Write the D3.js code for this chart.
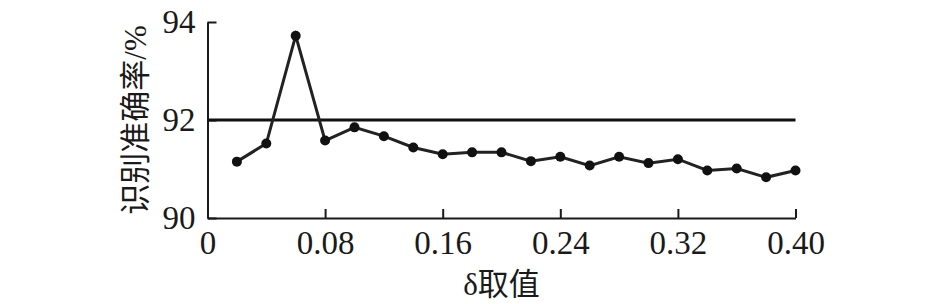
<!DOCTYPE html>
<html>
<head>
<meta charset="utf-8">
<script src="https://cdn.jsdelivr.net/npm/d3@7"></script>
<style>
  body { margin: 0; background: #fff; }
</style>
</head>
<body>
<div id="chart"></div>
<script>
// delta values on the x axis and recognition accuracy (%)
const deltas = [0.02, 0.04, 0.06, 0.08, 0.10, 0.12, 0.14, 0.16, 0.18, 0.20,
                0.22, 0.24, 0.26, 0.28, 0.30, 0.32, 0.34, 0.36, 0.38, 0.40];
const accuracy = [91.15, 91.52, 93.72, 91.58, 91.85, 91.67, 91.44, 91.30, 91.34, 91.34,
                  91.16, 91.25, 91.07, 91.25, 91.12, 91.20, 90.97, 91.01, 90.83, 90.97];
const baseline = 92; // horizontal reference line

const xTicks = [0, 0.08, 0.16, 0.24, 0.32, 0.40];
const xTickLabels = ["0", "0.08", "0.16", "0.24", "0.32", "0.40"];
const yTicks = [90, 92, 94];

const xLabel = "δ取值";
const yLabel = "识别准确率/%";

const fontList = '"Liberation Serif", "Noto Sans CJK SC"';

// dimensions
const width = 946, height = 304;
const margin = { top: 22, left: 207.5, right: 150.5, bottom: 86 };
const innerW = width - margin.left - margin.right;
const innerH = height - margin.top - margin.bottom;

const x = d3.scaleLinear().domain([0, 0.40]).range([0, innerW]);
const y = d3.scaleLinear().domain([90, 94]).range([innerH, 0]);

const svg = d3.select("#chart").append("svg")
    .attr("width", width).attr("height", height);

const g = svg.append("g")
    .attr("transform", `translate(${margin.left},${margin.top})`);

// axes, ticks point inward
const xAxis = g.append("g")
    .attr("transform", `translate(0,${innerH})`)
    .call(d3.axisBottom(x).tickValues(xTicks)
        .tickFormat((d, i) => xTickLabels[i])
        .tickSize(-9).tickSizeOuter(0).tickPadding(13));

const yAxis = g.append("g")
    .call(d3.axisLeft(y).tickValues(yTicks)
        .tickFormat(d3.format("d"))
        .tickSize(-9).tickSizeOuter(0).tickPadding(12));

[xAxis, yAxis].forEach(ax => {
    ax.attr("font-family", fontList).attr("font-size", 33);
    ax.select(".domain").attr("stroke", "#1a1a1a").attr("stroke-width", 2);
    ax.selectAll(".tick line").attr("stroke", "#1a1a1a").attr("stroke-width", 2);
    ax.selectAll(".tick text").attr("fill", "#1a1a1a");
});

// reference line at 92%
g.append("line")
    .attr("x1", x(0)).attr("x2", x(0.40))
    .attr("y1", y(baseline)).attr("y2", y(baseline))
    .attr("stroke", "#111").attr("stroke-width", 3);

// data line + dots
const data = deltas.map((d, i) => ({ x: d, y: accuracy[i] }));

g.append("path")
    .datum(data)
    .attr("fill", "none")
    .attr("stroke", "#222")
    .attr("stroke-width", 3)
    .attr("d", d3.line().x(d => x(d.x)).y(d => y(d.y)));

g.selectAll("circle.pt")
    .data(data)
    .join("circle")
    .attr("class", "pt")
    .attr("cx", d => x(d.x))
    .attr("cy", d => y(d.y))
    .attr("r", 5)
    .attr("fill", "#111");

// axis titles
svg.append("text")
    .attr("x", margin.left + innerW / 2)
    .attr("y", 295)
    .attr("text-anchor", "middle")
    .attr("font-family", fontList)
    .attr("font-size", 31)
    .attr("fill", "#1a1a1a")
    .text(xLabel);

svg.append("text")
    .attr("transform", `translate(135,${margin.top + y(92)}) rotate(-90)`)
    .attr("text-anchor", "middle")
    .attr("dominant-baseline", "central")
    .attr("font-family", fontList)
    .attr("font-size", 31)
    .attr("fill", "#1a1a1a")
    .text(yLabel);
</script>
</body>
</html>
